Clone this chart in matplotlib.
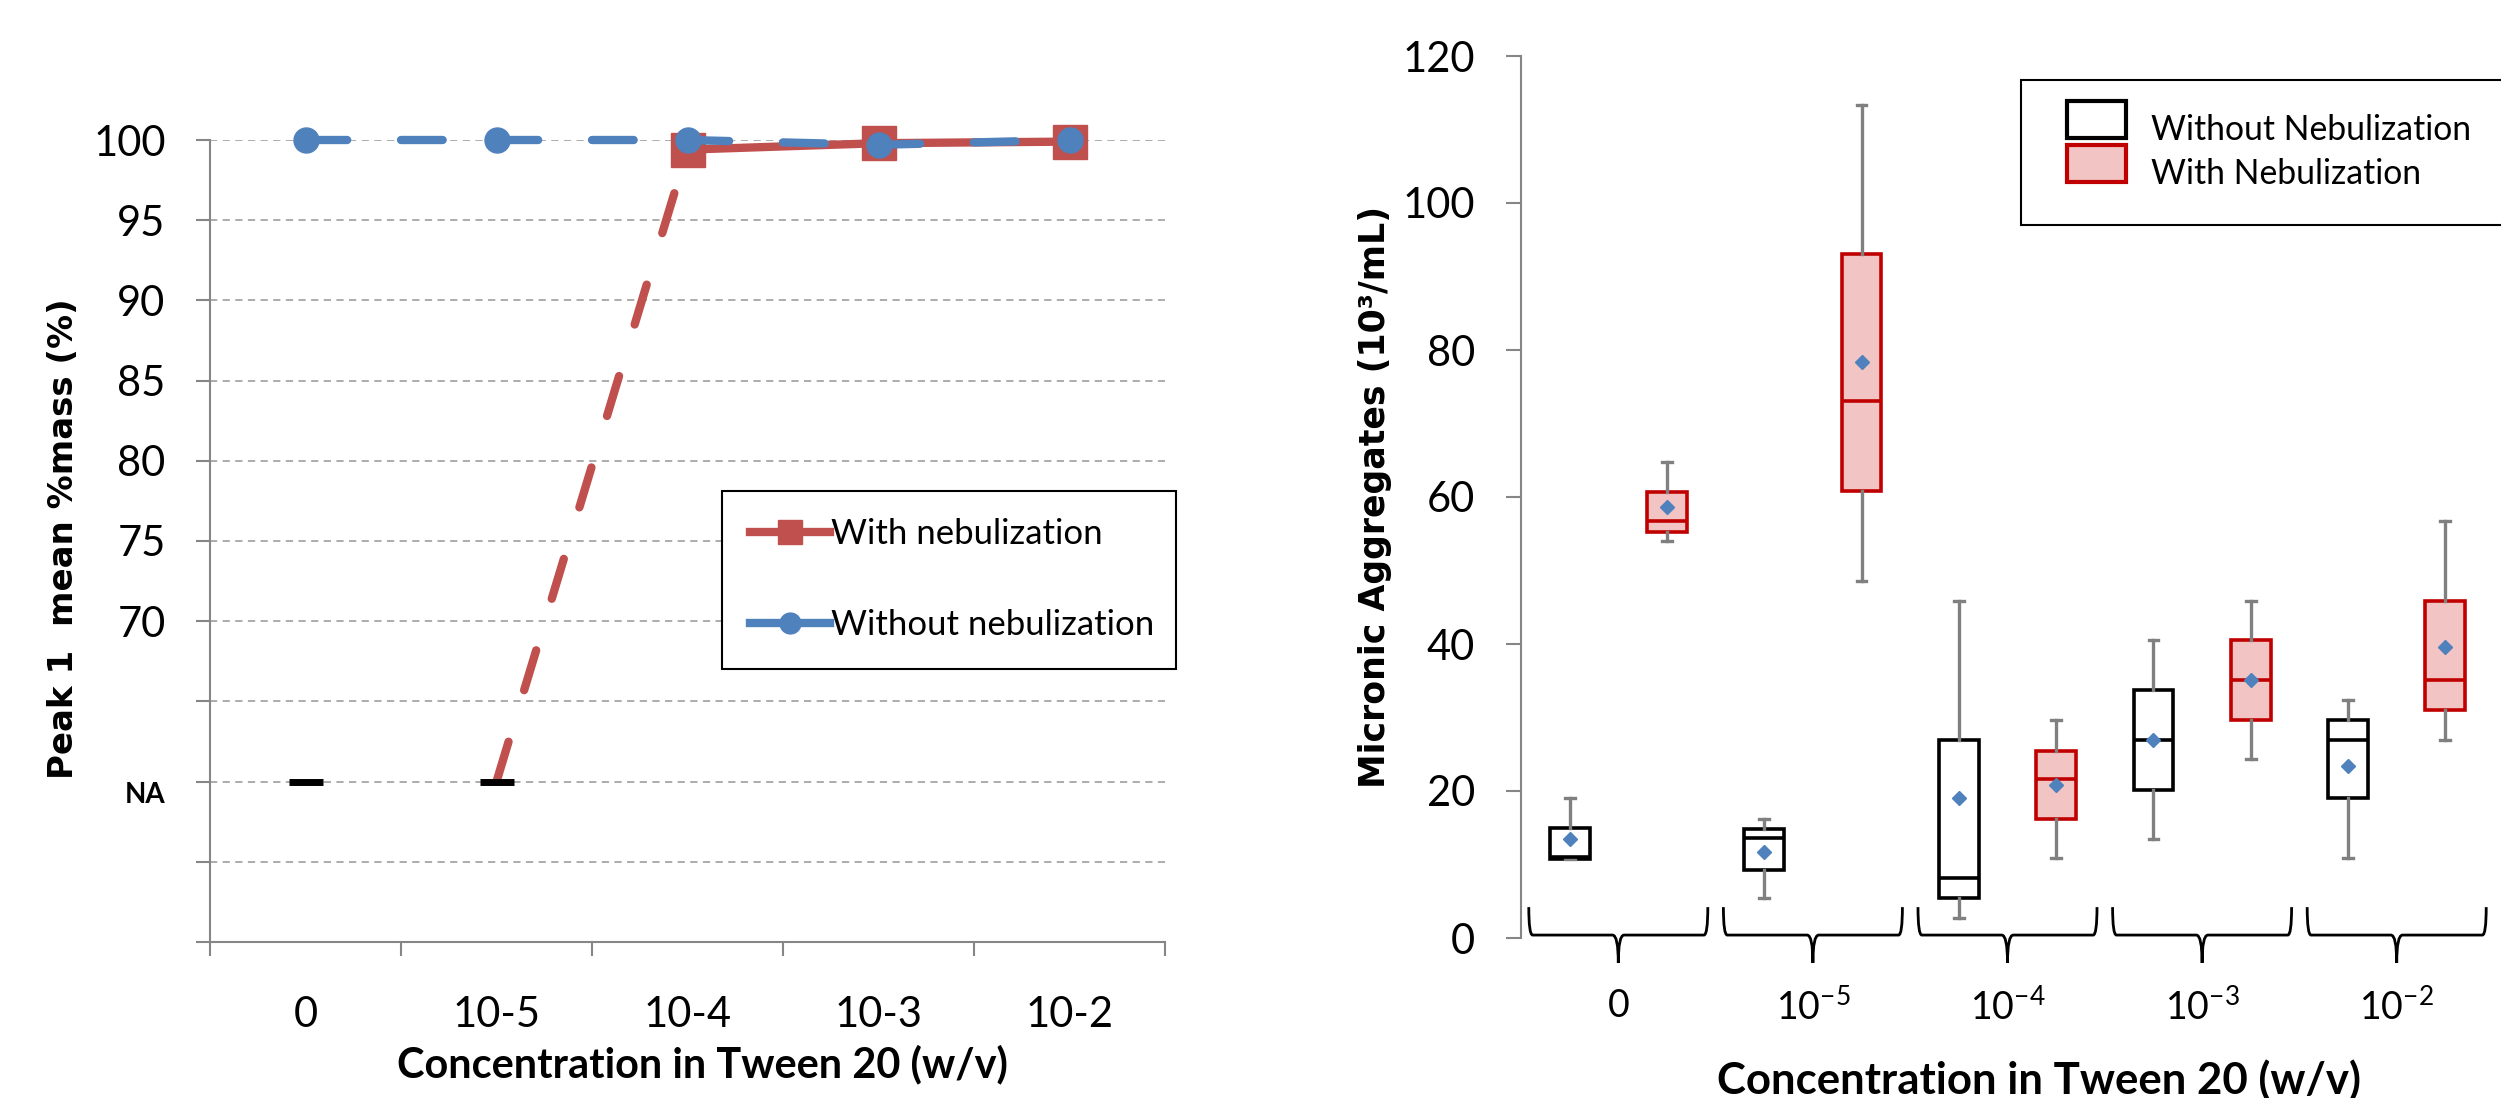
import numpy as np
import matplotlib
matplotlib.use('Agg')
import matplotlib.pyplot as plt
from matplotlib.lines import Line2D
from matplotlib.patches import Patch, PathPatch, Rectangle
from matplotlib.path import Path
from matplotlib.transforms import ScaledTranslation

plt.rcParams['font.family'] = ['Lato', 'DejaVu Sans']
plt.rcParams['mathtext.default'] = 'regular'

# left panel: Peak 1 mean %mass
conc_left = ['0', '10-5', '10-4', '10-3', '10-2']
without_neb = [100, 100, 100, 99.7, 100]
with_neb = [np.nan, np.nan, 99.4, 99.8, 99.9]   # nan = NA
na_level = 60
ytick_left = [50, 55, 60, 65, 70, 75, 80, 85, 90, 95, 100]
ylab_left = ['', '', 'NA', '', '70', '75', '80', '85', '90', '95', '100']

# right panel: micronic aggregates box plots (10^3/mL)
conc_right = ['0', '10$^{-5}$', '10$^{-4}$', '10$^{-3}$', '10$^{-2}$']
wo_lo = [10.8, 5.4, 2.7, 13.5, 10.9]
wo_q1 = [10.8, 9.3, 5.4, 20.2, 19.0]
wo_med = [11.0, 13.6, 8.2, 27.0, 27.0]
wo_q3 = [15.0, 14.8, 27.0, 33.7, 29.7]
wo_hi = [19.0, 16.2, 45.9, 40.5, 32.4]
wo_mean = [13.5, 11.7, 19.0, 27.0, 23.4]

w_lo = [54.0, 48.6, 10.9, 24.4, 27.0]
w_q1 = [55.2, 60.8, 16.2, 29.7, 31.0]
w_med = [56.7, 73.0, 21.6, 35.1, 35.1]
w_q3 = [60.7, 93.1, 25.5, 40.5, 45.9]
w_hi = [64.8, 113.3, 29.7, 45.9, 56.7]
w_mean = [58.6, 78.4, 20.8, 35.1, 39.6]

blue = '#4F81BD'
red = '#C0504D'
axgrey = '#868686'
dash = (0, (5.0, 6.46))   # two dashes per category step at lw 6

W, H = 2501, 1098
fig = plt.figure(figsize=(W / 100, H / 100), dpi=100)

def px(x0, y0, x1, y1):
    return [x0 / W, 1 - y1 / H, (x1 - x0) / W, (y1 - y0) / H]

ax1 = fig.add_axes(px(210, 140, 1165, 942))
ax2 = fig.add_axes(px(1521, 56, 2494, 938))

# ---------------- left panel ----------------
x = np.arange(len(conc_left))
wn = np.array(with_neb)
ok = ~np.isnan(wn)
na = np.isnan(wn)

ax1.plot(x, without_neb, color=blue, lw=6, ls=dash, dash_capstyle='round',
         marker='o', ms=18, clip_on=False, zorder=5)
ax1.plot(x[ok], wn[ok], color=red, lw=6, marker='s', ms=25, clip_on=False, zorder=4)
# dashed link from last NA point to first measured point
i0 = np.where(ok)[0][0]
ax1.plot([x[i0 - 1], x[i0]], [na_level, wn[i0]], color=red, lw=6, ls=dash,
         dash_capstyle='round', zorder=3)
ax1.plot(x[na], [na_level] * na.sum(), ls='none', marker='_', ms=25, mew=5,
         color='black', zorder=6, clip_on=False)

ax1.set_xlim(-0.5, 4.5)
ax1.set_ylim(50, 100)
ax1.set_xticks(np.arange(-0.5, 5, 1))
ax1.set_xticklabels([])
ax1.set_xticks(x, minor=True)
ax1.set_xticklabels(conc_left, minor=True)
ax1.tick_params(axis='x', which='major', length=10, width=1.5, color=axgrey, direction='out')
ax1.tick_params(axis='x', which='minor', length=0, pad=39, labelsize=30)
ax1.set_yticks(ytick_left)
ax1.set_yticklabels(ylab_left)
ax1.tick_params(axis='y', length=10, width=1.5, color=axgrey, pad=22, labelsize=30)
for t in ax1.get_yticklabels():
    if t.get_text() == 'NA':
        t.set_fontsize(20)
        t.set_fontweight('bold')
        t.set_verticalalignment('top')
ax1.yaxis.grid(True, color='#A6A6A6', lw=1.3, ls=(0, (4, 3)))
ax1.set_axisbelow(True)
for s in ['top', 'right']:
    ax1.spines[s].set_visible(False)
for s in ['left', 'bottom']:
    ax1.spines[s].set_color(axgrey)
    ax1.spines[s].set_linewidth(1.5)

ax1.set_ylabel('Peak 1  mean %mass (%)', family='DejaVu Sans', fontweight='bold', fontsize=24.5)
ax1.yaxis.set_label_coords(-0.136, 0.5025)
ax1.set_xlabel('Concentration in Tween 20 (w/v)', fontweight='bold', fontsize=29.9)
ax1.xaxis.set_label_coords(0.516, -0.128)

h1 = [Line2D([], [], color=red, lw=6, marker='s', ms=17),
      Line2D([], [], color=blue, lw=6, marker='o', ms=15)]
leg1 = ax1.legend(h1, ['With nebulization', 'Without nebulization'], loc='center',
                  bbox_to_anchor=(0.536, 0.3367, 0.4755, 0.2294), mode='expand',
                  borderaxespad=0, fontsize=25, fancybox=False, edgecolor='black',
                  framealpha=1, borderpad=0.8, labelspacing=1.7, handlelength=2.3,
                  handletextpad=0.05)
leg1.get_frame().set_linewidth(1.5)

# ---------------- right panel ----------------
g = np.arange(len(conc_right))
off = 0.25

def stats(lo, q1, med, q3, hi, mean):
    return [dict(whislo=a, q1=b, med=c, q3=d, whishi=e, mean=f, fliers=[])
            for a, b, c, d, e, f in zip(lo, q1, med, q3, hi, mean)]

common = dict(widths=0.205, patch_artist=True, showmeans=True, showfliers=False,
              manage_ticks=False, capwidths=0.05,
              whiskerprops=dict(color='#808080', lw=2.4),
              capprops=dict(color='#808080', lw=2.4),
              meanprops=dict(marker='D', markerfacecolor=blue, markeredgecolor=blue, markersize=7))

ax2.bxp(stats(wo_lo, wo_q1, wo_med, wo_q3, wo_hi, wo_mean), positions=g - off,
        boxprops=dict(facecolor='white', edgecolor='black', lw=2.6),
        medianprops=dict(color='black', lw=2.6), **common)
ax2.bxp(stats(w_lo, w_q1, w_med, w_q3, w_hi, w_mean), positions=g + off,
        boxprops=dict(facecolor='#F2C4C4', edgecolor='#C00000', lw=2.6),
        medianprops=dict(color='#C00000', lw=2.6), **common)

# curly braces under each concentration group
for c in g:
    a, b = c - 0.46, c + 0.46
    top, mid, tip = 4.2, 0.4, -3.4
    verts = [(a, top), (a, mid), (a + 0.02, mid), (c - 0.03, mid), (c, mid), (c, tip),
             (c, mid), (c + 0.03, mid), (b - 0.02, mid), (b, mid), (b, top)]
    codes = [Path.MOVETO, Path.CURVE3, Path.CURVE3, Path.LINETO, Path.CURVE3, Path.CURVE3,
             Path.CURVE3, Path.CURVE3, Path.LINETO, Path.CURVE3, Path.CURVE3]
    ax2.add_patch(PathPatch(Path(verts, codes), fill=False, lw=2, edgecolor='black',
                            clip_on=False, zorder=3))

ax2.set_xlim(-0.5, 4.5)
ax2.set_ylim(0, 120)
ax2.set_yticks(np.arange(0, 121, 20))
ax2.set_xticks(g)
ax2.set_xticklabels(conc_right)
ax2.tick_params(axis='x', length=0, pad=36, labelsize=27)
ax2.tick_params(axis='y', length=11, width=1.5, color=axgrey, pad=22, labelsize=30)
for s in ['top', 'right', 'bottom']:
    ax2.spines[s].set_visible(False)
ax2.spines['left'].set_color(axgrey)
ax2.spines['left'].set_linewidth(1.5)

ax2.set_ylabel('Micronic Aggregates (10³/mL)', family='DejaVu Sans', fontweight='bold', fontsize=25)
ax2.yaxis.set_label_coords(-0.133, 0.5)
ax2.set_xlabel('Concentration in Tween 20 (w/v)', fontweight='bold', fontsize=31.5)
ax2.xaxis.set_label_coords(0.532, -0.138)

# legend box runs past the right edge of the figure, as in the original
ax2.add_patch(Rectangle((2021 / W, 1 - 225 / H), 520 / W, 145 / H, transform=fig.transFigure,
                        facecolor='white', edgecolor='black', lw=1.5, clip_on=False, zorder=4.5))
h2 = [Patch(facecolor='white', edgecolor='black', lw=3),
      Patch(facecolor='#F2C4C4', edgecolor='#C00000', lw=3)]
leg2 = ax2.legend(h2, ['Without Nebulization', 'With Nebulization'], loc='upper left',
                  bbox_to_anchor=(2067 / W, 1 - 101 / H), bbox_transform=fig.transFigure,
                  borderaxespad=0, borderpad=0, frameon=False, fontsize=24.3,
                  labelspacing=0.22, handlelength=1.75, handleheight=1.3, handletextpad=0.75)
leg2.set_zorder(5)
for t in leg2.get_texts():
    t.set_transform(t.get_transform() + ScaledTranslation(0, -0.09, fig.dpi_scale_trans))

fig.savefig('out.png', dpi=100)
